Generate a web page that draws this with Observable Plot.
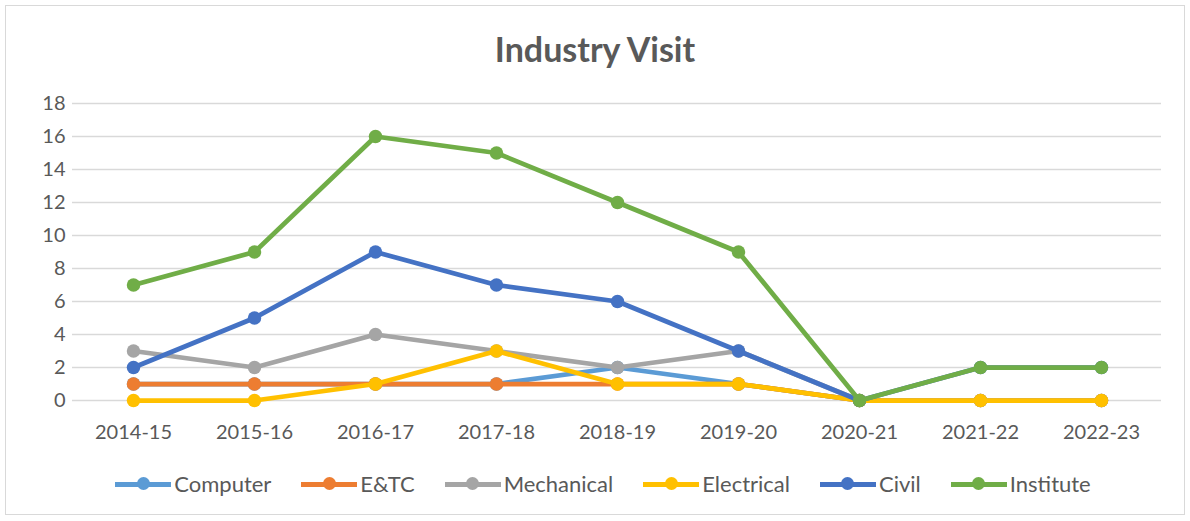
<!DOCTYPE html>
<html>
<head>
<meta charset="utf-8">
<script src="https://cdn.jsdelivr.net/npm/d3@7"></script>
<script src="https://cdn.jsdelivr.net/npm/@observablehq/plot@0.6"></script>
<style>
  html, body { margin: 0; padding: 0; background: #fff; }
  body { position: relative; width: 1190px; height: 521px; overflow: hidden; font-family: Lato, "Open Sans", sans-serif; }
  #frame { position: absolute; left: 5px; top: 5px; width: 1180px; height: 510px; border: 1.5px solid #d9d9d9; box-sizing: border-box; }
  #title { position: absolute; top: 28px; left: 0; width: 1190px; text-align: center; font-size: 34px; font-weight: bold; color: #595959; }
  #chart { position: absolute; top: 80px; left: 0; }
  #chart svg { max-width: none; }
  #legend { position: absolute; top: 470px; left: 8px; width: 1190px; display: flex; justify-content: center; gap: 30px; font-size: 22px; color: #595959; }
  .item { display: flex; align-items: center; gap: 3px; }
  .sw { position: relative; width: 56px; height: 20px; }
  .sw .ln { position: absolute; left: 0; right: 0; top: 8px; height: 5px; }
  .sw .dt { position: absolute; left: 21.5px; top: 3.5px; width: 13px; height: 13px; border-radius: 50%; }
</style>
</head>
<body>
<div id="frame"></div>
<div id="title">Industry Visit</div>
<div id="chart"></div>
<div id="legend"></div>
<script>
const years = ["2014-15","2015-16","2016-17","2017-18","2018-19","2019-20","2020-21","2021-22","2022-23"];
const seriesNames = ["Computer","E&TC","Mechanical","Electrical","Civil","Institute"];
const colors = ["#5B9BD5","#ED7D31","#A5A5A5","#FFC000","#4472C4","#70AD47"];
const computer   = [1,1,1,1,2,1,0,0,0];
const etc        = [1,1,1,1,1,1,0,0,0];
const mechanical = [3,2,4,3,2,3,0,0,0];
const electrical = [0,0,1,3,1,1,0,0,0];
const civil      = [2,5,9,7,6,3,0,2,2];
const institute  = [7,9,16,15,12,9,0,2,2];
const yTicks = [0,2,4,6,8,10,12,14,16,18];

const allValues = [computer, etc, mechanical, electrical, civil, institute];
const data = [];
seriesNames.forEach((s, i) => {
  years.forEach((y, j) => data.push({series: s, year: y, value: allValues[i][j]}));
});

const chart = Plot.plot({
  width: 1190,
  height: 380,
  marginLeft: 72,
  marginRight: 29,
  marginTop: 23,
  marginBottom: 60,
  style: {fontFamily: "Lato, 'Open Sans', sans-serif", fontSize: "20px", color: "#595959", background: "transparent", maxWidth: "none"},
  x: {type: "point", domain: years, padding: 0.5, label: null, tickSize: 0, tickPadding: 24},
  y: {domain: [0, 18], ticks: yTicks, label: null, tickSize: 0, tickPadding: 7},
  marks: [
    Plot.gridY(yTicks, {stroke: "#d9d9d9", strokeOpacity: 1, strokeWidth: 1.3}),
    ...seriesNames.flatMap((s, i) => [
      Plot.line(data.filter(d => d.series === s), {x: "year", y: "value", stroke: colors[i], strokeWidth: 4.75}),
      Plot.dot(data.filter(d => d.series === s), {x: "year", y: "value", fill: colors[i], r: 6.75})
    ])
  ]
});
document.getElementById("chart").appendChild(chart);

const legend = document.getElementById("legend");
seriesNames.forEach((s, i) => {
  const it = document.createElement("div");
  it.className = "item";
  it.innerHTML = `<div class="sw"><div class="ln" style="background:${colors[i]}"></div><div class="dt" style="background:${colors[i]}"></div></div><span>${s.replace("&","&amp;")}</span>`;
  legend.appendChild(it);
});
</script>
</body>
</html>
